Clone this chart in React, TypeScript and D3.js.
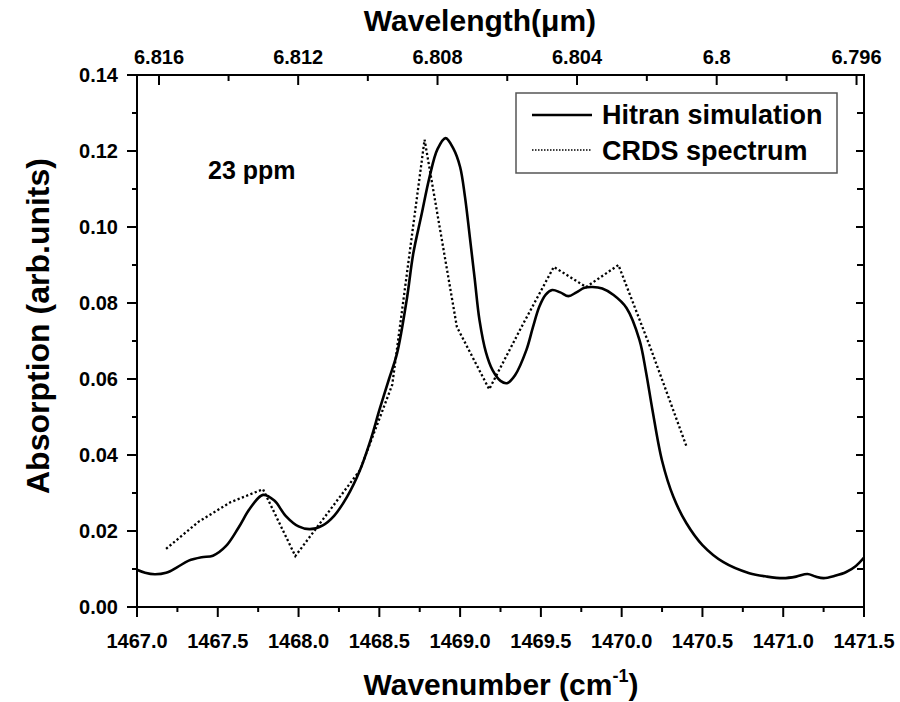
import React from "react";
import * as d3 from "d3";

// Hitran simulation (solid)
const hitranWn = [
  1467.0, 1467.05, 1467.11, 1467.18, 1467.25, 1467.32, 1467.4, 1467.47, 1467.55, 1467.63,
  1467.7, 1467.78, 1467.85, 1467.92, 1468.0, 1468.07, 1468.15, 1468.22, 1468.3, 1468.38,
  1468.45, 1468.5, 1468.56, 1468.61, 1468.67, 1468.71, 1468.76, 1468.81, 1468.86, 1468.91,
  1468.96, 1469.0, 1469.03, 1469.06, 1469.09, 1469.12, 1469.16, 1469.2, 1469.25, 1469.29,
  1469.34, 1469.41, 1469.45, 1469.49, 1469.53, 1469.57, 1469.62, 1469.67, 1469.72, 1469.77,
  1469.82, 1469.88, 1469.95, 1470.03, 1470.11, 1470.15, 1470.19, 1470.25, 1470.32, 1470.4,
  1470.5, 1470.63, 1470.79, 1470.9, 1471.0, 1471.08, 1471.15, 1471.2, 1471.25, 1471.32,
  1471.39, 1471.45, 1471.5,
];
const hitranAbs = [
  0.0098, 0.009, 0.0086, 0.009, 0.0105, 0.0122, 0.0131, 0.0135, 0.016, 0.021,
  0.026, 0.0295, 0.028, 0.024, 0.0212, 0.0205, 0.0215, 0.024, 0.029, 0.036,
  0.0445, 0.0518, 0.06, 0.0668, 0.081, 0.093, 0.103, 0.113, 0.1205, 0.1234,
  0.1205, 0.1158, 0.108, 0.0974, 0.0865, 0.0755, 0.067, 0.0624, 0.0595, 0.0589,
  0.061, 0.0676, 0.0735, 0.079, 0.0822, 0.0834, 0.0828, 0.0818, 0.0828, 0.084,
  0.0842, 0.0838, 0.0821, 0.0787, 0.0703, 0.062, 0.052, 0.0385, 0.029, 0.0221,
  0.0163, 0.0118, 0.0089, 0.008, 0.0076, 0.008, 0.0087, 0.008, 0.0076, 0.0082,
  0.0092, 0.0108, 0.013,
];

// CRDS spectrum (dotted)
const crdsWn = [
  1467.18, 1467.38, 1467.58, 1467.78, 1467.98, 1468.18, 1468.38, 1468.58, 1468.78,
  1468.98, 1469.18, 1469.38, 1469.58, 1469.78, 1469.98, 1470.18, 1470.4,
];
const crdsAbs = [
  0.0153, 0.0224, 0.0276, 0.031, 0.0134, 0.0247, 0.036, 0.0585, 0.123,
  0.0737, 0.0573, 0.0737, 0.0895, 0.0842, 0.09, 0.068, 0.0424,
];

const xMajorTicks = [1467.0, 1467.5, 1468.0, 1468.5, 1469.0, 1469.5, 1470.0, 1470.5, 1471.0, 1471.5];
const yMajorTicks = [0, 0.02, 0.04, 0.06, 0.08, 0.1, 0.12, 0.14];
const wlMajorTicks = [6.816, 6.812, 6.808, 6.804, 6.8, 6.796];
const wlMinorTicks = [6.814, 6.81, 6.806, 6.802, 6.798];
const wlLabels = ["6.816", "6.812", "6.808", "6.804", "6.8", "6.796"];

const seriesNames = ["Hitran simulation", "CRDS spectrum"];
const annotation = "23 ppm";

const FONT = "'Liberation Sans', Arial, sans-serif";

export default function App() {
  const L = 137, R = 864, T = 75, B = 607;
  const x = d3.scaleLinear().domain([1467, 1471.5]).range([L, R]);
  const y = d3.scaleLinear().domain([0, 0.14]).range([B, T]);

  const hitran = hitranWn.map((w, i) => [w, hitranAbs[i]] as [number, number]);
  const crds = crdsWn.map((w, i) => [w, crdsAbs[i]] as [number, number]);

  const smooth = d3.line<[number, number]>().x(d => x(d[0])).y(d => y(d[1])).curve(d3.curveCatmullRom.alpha(0.5));
  const linear = d3.line<[number, number]>().x(d => x(d[0])).y(d => y(d[1]));

  const xMinor = xMajorTicks.slice(0, -1).map(v => v + 0.25);
  const yMinor = yMajorTicks.slice(0, -1).map(v => v + 0.01);
  const wx = (lam: number) => x(10000 / lam);

  return (
    <svg width={900} height={702} style={{ position: "fixed", left: 0, top: 0, background: "#fff" }} fontFamily={FONT}>
      <rect x={0} y={0} width={900} height={702} fill="#fff" />
      <defs>
        <clipPath id="plot">
          <rect x={L} y={T} width={R - L} height={B - T} />
        </clipPath>
      </defs>

      {/* series */}
      <g clipPath="url(#plot)">
        <path d={smooth(hitran) || ""} fill="none" stroke="#000" strokeWidth={2.6} strokeLinejoin="round" />
        <path d={linear(crds) || ""} fill="none" stroke="#000" strokeWidth={2.3} strokeDasharray="2.2 2.4" />
      </g>

      {/* frame */}
      <rect x={L} y={T} width={R - L} height={B - T} fill="none" stroke="#000" strokeWidth={2} />

      {/* bottom axis */}
      {xMajorTicks.map(v => (
        <g key={"xb" + v}>
          <line x1={x(v)} x2={x(v)} y1={B} y2={B + 10} stroke="#000" strokeWidth={2} />
          <text x={x(v)} y={648} textAnchor="middle" fontSize={20} fontWeight="bold">{v.toFixed(1)}</text>
        </g>
      ))}
      {xMinor.map(v => (
        <line key={"xm" + v} x1={x(v)} x2={x(v)} y1={B} y2={B + 5} stroke="#000" strokeWidth={2} />
      ))}

      {/* left axis */}
      {yMajorTicks.map(v => (
        <g key={"yl" + v}>
          <line x1={L - 10} x2={L} y1={y(v)} y2={y(v)} stroke="#000" strokeWidth={2} />
          <text x={118} y={y(v) + 7} textAnchor="end" fontSize={20} fontWeight="bold">{v.toFixed(2)}</text>
          <line x1={R - 8} x2={R} y1={y(v)} y2={y(v)} stroke="#000" strokeWidth={2} />
        </g>
      ))}
      {yMinor.map(v => (
        <g key={"ym" + v}>
          <line x1={L - 5} x2={L} y1={y(v)} y2={y(v)} stroke="#000" strokeWidth={2} />
          <line x1={R - 7} x2={R} y1={y(v)} y2={y(v)} stroke="#000" strokeWidth={2} />
        </g>
      ))}

      {/* top axis (wavelength) */}
      {wlMajorTicks.map((v, i) => (
        <g key={"wt" + v}>
          <line x1={wx(v)} x2={wx(v)} y1={T} y2={T + 10} stroke="#000" strokeWidth={2} />
          <text x={wx(v)} y={64} textAnchor="middle" fontSize={20} fontWeight="bold">{wlLabels[i]}</text>
        </g>
      ))}
      {wlMinorTicks.map(v => (
        <line key={"wm" + v} x1={wx(v)} x2={wx(v)} y1={T} y2={T + 6} stroke="#000" strokeWidth={2} />
      ))}

      {/* titles */}
      <text x={480} y={31} textAnchor="middle" fontSize={30} fontWeight="bold">Wavelength(μm)</text>
      <text x={501} y={695} textAnchor="middle" fontSize={30} fontWeight="bold">
        Wavenumber (cm<tspan dy={-13} fontSize={18}>-1</tspan><tspan dy={13}>)</tspan>
      </text>
      <text transform={`translate(49,${(T + B) / 2 - 15}) rotate(-90)`} textAnchor="middle" fontSize={32} fontWeight="bold">
        Absorption (arb.units)
      </text>

      {/* annotation */}
      <text x={208} y={179} fontSize={25} fontWeight="bold">{annotation}</text>

      {/* legend */}
      <rect x={516} y={93} width={321} height={80} fill="#fff" stroke="#555" strokeWidth={1.5} />
      <line x1={532} x2={592} y1={115} y2={115} stroke="#000" strokeWidth={2.6} />
      <text x={602} y={124} fontSize={27} fontWeight="bold">{seriesNames[0]}</text>
      <line x1={532} x2={592} y1={150} y2={150} stroke="#000" strokeWidth={1.6} strokeDasharray="1.5 1.5" />
      <text x={602} y={160} fontSize={27} fontWeight="bold">{seriesNames[1]}</text>
    </svg>
  );
}
